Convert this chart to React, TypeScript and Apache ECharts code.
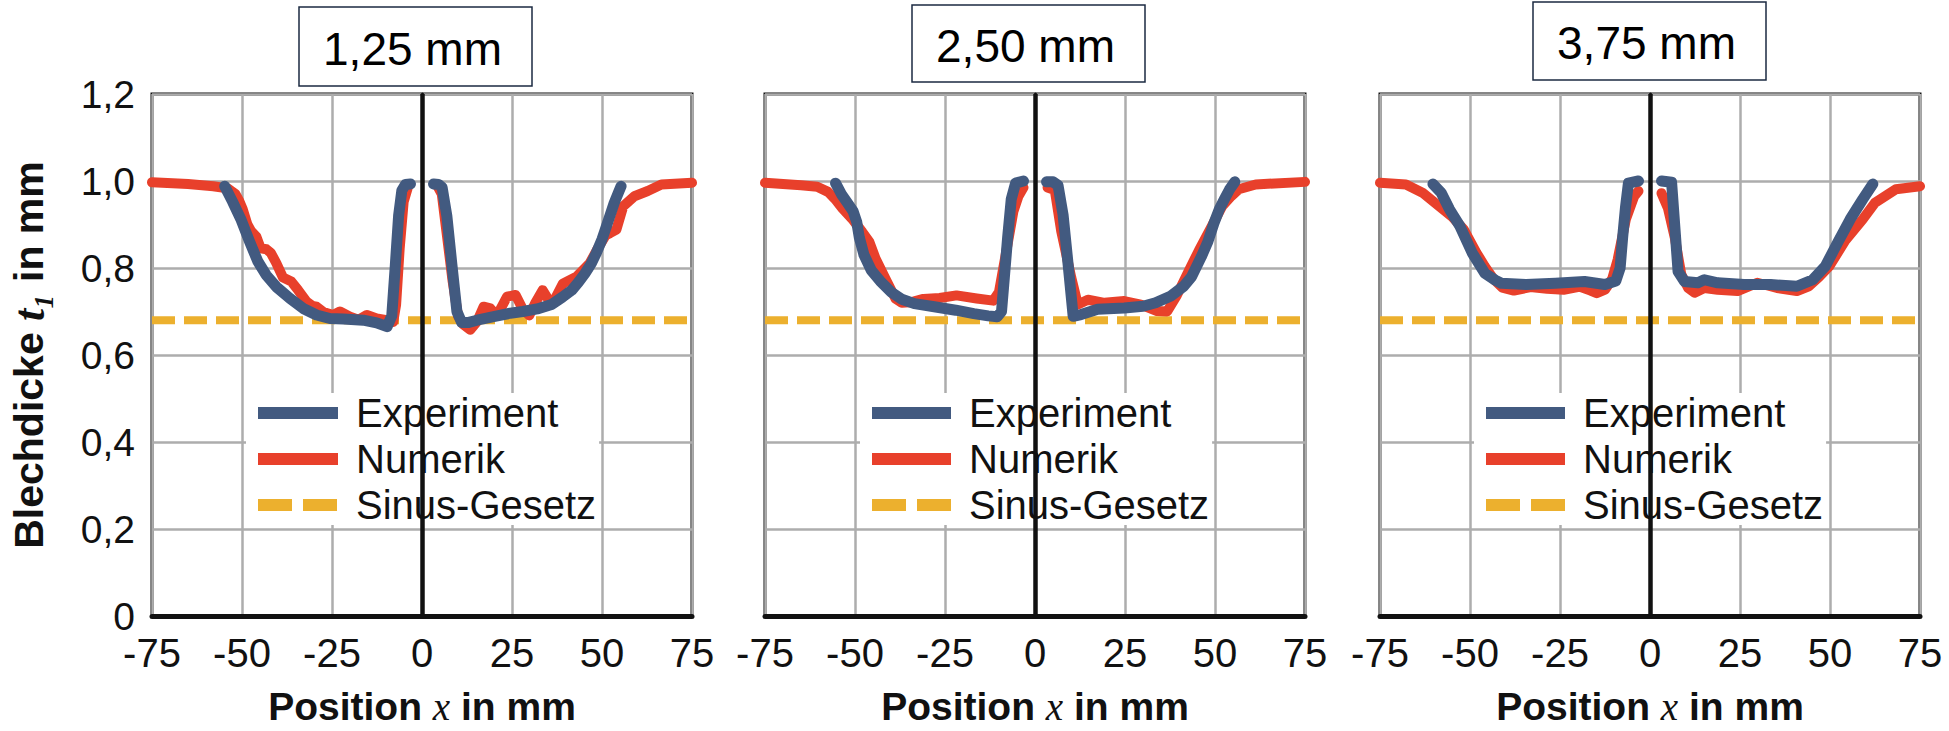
import React, { useEffect, useRef } from 'react';
import * as echarts from 'echarts';

// ---------- data ----------
const titles = ['1,25 mm', '2,50 mm', '3,75 mm'];
const legendNames = ['Experiment', 'Numerik', 'Sinus-Gesetz'];
const sinusValue = 0.68;
const xRange = [-75, 75];
const yRange = [0, 1.2];

// 1,25 mm
const exp125Left = [
  [-54.8, 0.988], [-52.6, 0.952], [-50.2, 0.91], [-47.9, 0.861], [-45.6, 0.815], [-43.3, 0.784],
  [-40.5, 0.757], [-36.7, 0.73], [-33, 0.707], [-29.3, 0.692], [-25.6, 0.684], [-21.9, 0.683],
  [-16.3, 0.68], [-12.6, 0.674], [-9.7, 0.665], [-8.4, 0.69], [-7.4, 0.808], [-6.5, 0.92],
  [-5.6, 0.978], [-4.6, 0.992], [-3.2, 0.993],
];
const exp125Right = [
  [3.2, 0.993], [4.6, 0.992], [5.6, 0.985], [6.9, 0.92], [8.3, 0.808], [9.7, 0.7], [11, 0.675],
  [13, 0.675], [15.3, 0.68], [19.9, 0.688], [24.5, 0.696], [28, 0.7], [32, 0.706], [36, 0.716],
  [39, 0.733], [41.6, 0.749], [43.5, 0.768], [45.3, 0.788], [47, 0.81], [48.4, 0.834], [50, 0.866],
  [50.9, 0.888], [52.2, 0.92], [53.4, 0.95], [54.5, 0.972], [55.3, 0.988],
];
const num125Left = [
  [-75, 0.997], [-65, 0.993], [-58, 0.988], [-54, 0.983], [-51.8, 0.97], [-50.8, 0.955],
  [-49.8, 0.935], [-48.5, 0.9], [-47.5, 0.885], [-46, 0.872], [-44.8, 0.845], [-43.2, 0.843],
  [-42, 0.835], [-40.5, 0.812], [-38.6, 0.778], [-36.3, 0.769], [-34.4, 0.749], [-32.1, 0.723],
  [-30.5, 0.713], [-29.3, 0.711], [-27.4, 0.699], [-24.7, 0.692], [-22.8, 0.7], [-20, 0.688],
  [-17.7, 0.681], [-15.3, 0.692], [-12.6, 0.684], [-9.8, 0.68], [-8, 0.676], [-7.2, 0.715],
  [-6.2, 0.845], [-5.1, 0.952], [-4, 0.983],
];
const num125Right = [
  [4.2, 0.99], [5.5, 0.97], [7, 0.87], [8.5, 0.77], [10, 0.69], [11.5, 0.67], [13.4, 0.658],
  [15.3, 0.677], [17.1, 0.711], [19, 0.707], [20.8, 0.69], [23.6, 0.734], [26, 0.738], [28, 0.705],
  [29.8, 0.691], [31.5, 0.72], [33.5, 0.749], [35.5, 0.722], [37, 0.73], [39.1, 0.764], [42.9, 0.78],
  [46.6, 0.811], [48.5, 0.84], [49.7, 0.857], [51, 0.875], [52.2, 0.88], [54, 0.888], [55.9, 0.942],
  [59, 0.965], [62.7, 0.977], [66.5, 0.992], [75, 0.996],
];

// 2,50 mm
const exp250Left = [
  [-55.4, 0.995], [-53.8, 0.97], [-52.3, 0.952], [-50.5, 0.93], [-49.5, 0.905], [-48.8, 0.87],
  [-47.5, 0.83], [-45.5, 0.795], [-43, 0.77], [-40, 0.745], [-37, 0.728], [-33.5, 0.718],
  [-28, 0.711], [-22, 0.703], [-17, 0.695], [-13, 0.69], [-10.5, 0.688], [-9.3, 0.7], [-8.5, 0.78],
  [-7.6, 0.87], [-6.6, 0.958], [-5.4, 0.995], [-3.2, 1.0],
];
const exp250Right = [
  [3.2, 0.998], [5, 0.998], [6.4, 0.99], [7.8, 0.922], [9.2, 0.808], [10.6, 0.689], [12.8, 0.693],
  [17.4, 0.705], [24.8, 0.708], [30, 0.712], [33.5, 0.72], [37.6, 0.735], [41.3, 0.758],
  [43.5, 0.78], [46.2, 0.826], [48, 0.86], [49.7, 0.903], [51.2, 0.935], [52.6, 0.958], [54, 0.98],
  [55.5, 0.998],
];
const num250Left = [
  [-75, 0.996], [-65, 0.99], [-60.5, 0.987], [-57.5, 0.975], [-55.5, 0.958], [-53.5, 0.937],
  [-50.5, 0.91], [-48, 0.883], [-46, 0.86], [-44.3, 0.822], [-41.5, 0.775], [-38.7, 0.729],
  [-37, 0.72], [-34, 0.722], [-31, 0.729], [-26.5, 0.731], [-21.8, 0.737], [-16.2, 0.73],
  [-11.6, 0.725], [-10, 0.745], [-8.8, 0.8], [-7.5, 0.86], [-6, 0.93], [-4.6, 0.965], [-3.2, 0.985],
];
const num250Right = [
  [3.5, 0.985], [5.5, 0.979], [7.3, 0.884], [10.1, 0.777], [11.9, 0.716], [14.7, 0.727],
  [19.3, 0.72], [24.8, 0.724], [29.4, 0.716], [33.9, 0.701], [36.7, 0.7], [39.4, 0.737],
  [42.5, 0.79], [45.5, 0.84], [48.6, 0.888], [52, 0.942], [54.5, 0.965], [56.6, 0.981],
  [61.3, 0.992], [75, 0.998],
];

// 3,75 mm
const exp375Left = [
  [-60.3, 0.993], [-58, 0.973], [-55.7, 0.935], [-52.8, 0.896], [-49.4, 0.835], [-45.9, 0.788],
  [-43, 0.772], [-41.3, 0.765], [-34.4, 0.762], [-26.3, 0.765], [-18.2, 0.769], [-12.5, 0.762],
  [-9.5, 0.77], [-8.3, 0.8], [-7.6, 0.87], [-6.8, 0.94], [-6, 0.995], [-3.2, 1.0],
];
const exp375Right = [
  [3.2, 1.0], [6, 0.997], [7.8, 0.792], [9.6, 0.769], [13.3, 0.766], [15.1, 0.773], [18.8, 0.766],
  [26.1, 0.762], [33.5, 0.762], [40.8, 0.758], [45.2, 0.773], [48.7, 0.804], [52.1, 0.858],
  [55.6, 0.912], [59.1, 0.958], [61.9, 0.993],
];
const num375Left = [
  [-75, 0.996], [-67.8, 0.992], [-63.2, 0.973], [-58.6, 0.942], [-55.1, 0.919], [-51.7, 0.888],
  [-48.2, 0.835], [-45.9, 0.804], [-43.5, 0.775], [-41, 0.755], [-37.8, 0.748], [-33.2, 0.756],
  [-28.6, 0.752], [-24, 0.75], [-19.4, 0.757], [-16.5, 0.748], [-14.8, 0.742], [-12.5, 0.75],
  [-10.5, 0.775], [-9, 0.819], [-6.7, 0.912], [-4.4, 0.965], [-3.2, 0.977],
];
const num375Right = [
  [3.2, 0.972], [5, 0.937], [6.9, 0.869], [8.7, 0.785], [10.6, 0.754], [12.4, 0.743], [15.1, 0.754],
  [18.8, 0.75], [24.3, 0.747], [29.8, 0.766], [35.3, 0.754], [40.8, 0.747], [44.1, 0.758],
  [47, 0.78], [49.8, 0.804], [54.4, 0.865], [59.1, 0.912], [62.5, 0.95], [68.3, 0.981], [75, 0.988],
];

// ---------- styles / layout ----------
const SANS = "'Liberation Sans', Arial, Helvetica, sans-serif";
const SERIF = "'Liberation Serif', 'Times New Roman', serif";
const BLUE = '#425a80';
const RED = '#e8402b';
const YELLOW = '#ecb02e';
const INK = '#111111';

const layout = [
  { left: 152, width: 540, box: [299, 7, 233, 79], legendLeft: 246, iconW: 80 },
  { left: 765, width: 540, box: [912, 5, 233, 77], legendLeft: 860, iconW: 79 },
  { left: 1380, width: 540, box: [1533, 2, 233, 78], legendLeft: 1474, iconW: 79 },
];
const expSets = [[exp125Left, exp125Right], [exp250Left, exp250Right], [exp375Left, exp375Right]];
const numSets = [[num125Left, num125Right], [num250Left, num250Right], [num375Left, num375Right]];

const withGap = (parts: number[][][]) => [...parts[0], [0, '-'], ...parts[1]];

export default function App() {
  const ref = useRef<HTMLDivElement>(null);
  useEffect(() => {
    if (!ref.current) return;
    const chart = echarts.init(ref.current, undefined, { renderer: 'svg' });
    const top = 94;
    const height = 522;

    const grid = layout.map((p) => ({
      left: p.left, top, width: p.width, height,
      outerBoundsMode: 'none', containLabel: false,
      show: true, borderColor: INK, borderWidth: 3, backgroundColor: 'transparent',
    }));

    const xAxis = layout.map((p, i) => ({
      type: 'value', gridIndex: i, min: xRange[0], max: xRange[1], interval: 25,
      axisLine: { show: true, onZero: false, lineStyle: { color: INK, width: 5 } },
      axisTick: { show: false },
      axisLabel: { fontSize: 40, fontFamily: SANS, color: INK, margin: 17 },
      splitLine: { show: true, lineStyle: { color: '#adadad', width: 2.5 } },
      name: '{b|Position }{i|x}{b| in mm}',
      nameLocation: 'middle',
      nameGap: 71,
      nameTextStyle: {
        fontSize: 39,
        lineHeight: 39,
        rich: {
          b: { fontFamily: SANS, fontWeight: 'bold', fontSize: 39, lineHeight: 39, color: INK },
          i: { fontFamily: SERIF, fontStyle: 'italic', fontSize: 39, lineHeight: 39, color: INK },
        },
      },
    }));

    const yAxis = layout.map((p, i) => ({
      type: 'value', gridIndex: i, min: yRange[0], max: yRange[1], interval: 0.2,
      axisLine: { show: true, lineStyle: { color: INK, width: 3 } },
      axisTick: { show: false },
      axisLabel: {
        show: i === 0, fontSize: 39, fontFamily: SANS, color: INK, margin: 17,
        formatter: (v: number) => (Math.abs(v) < 1e-9 ? '0' : v.toFixed(1).replace('.', ',')),
      },
      splitLine: { show: true, lineStyle: { color: '#adadad', width: 2.5 } },
      name: i === 0 ? '{b|Blechdicke }{i|t₁}{b| in mm}' : '',
      nameLocation: 'middle',
      nameRotate: 90,
      nameGap: 101,
      nameTextStyle: {
        lineHeight: 44,
        rich: {
          b: { fontFamily: SANS, fontWeight: 'bold', fontSize: 41, color: INK, lineHeight: 44 },
          i: { fontFamily: SERIF, fontStyle: 'italic', fontWeight: 'bold', fontSize: 44, color: INK, lineHeight: 44 },
        },
      },
    }));

    const series: any[] = [];
    layout.forEach((p, i) => {
      series.push({
        type: 'line', name: legendNames[2], xAxisIndex: i, yAxisIndex: i,
        data: [[xRange[0], sinusValue], [xRange[1], sinusValue]],
        symbol: 'none', silent: true,
        lineStyle: { color: YELLOW, width: 8, type: [23, 9], cap: 'butt' },
        itemStyle: { color: YELLOW },
        markLine: {
          silent: true, symbol: 'none', label: { show: false },
          lineStyle: { color: INK, width: 4.5, type: 'solid' },
          emphasis: { disabled: true },
          data: [{ xAxis: 0 }],
        },
        z: 2,
      });
      series.push({
        type: 'line', name: legendNames[1], xAxisIndex: i, yAxisIndex: i,
        data: withGap(numSets[i]), symbol: 'none', silent: true,
        lineStyle: { color: RED, width: 10, cap: 'round', join: 'round' },
        itemStyle: { color: RED },
        z: 3,
      });
      series.push({
        type: 'line', name: legendNames[0], xAxisIndex: i, yAxisIndex: i,
        data: withGap(expSets[i]), symbol: 'none', silent: true,
        lineStyle: { color: BLUE, width: 11, cap: 'round', join: 'round' },
        itemStyle: { color: BLUE },
        z: 4,
      });
    });

    const hiddenSymbol = { color: 'rgba(0,0,0,0)', borderWidth: 0, opacity: 0 };
    const legend = layout.map((p) => ({
      orient: 'vertical', left: p.legendLeft, top: 393,
      data: [
        { name: legendNames[0], itemStyle: hiddenSymbol },
        { name: legendNames[1], itemStyle: hiddenSymbol },
        { name: legendNames[2], itemStyle: hiddenSymbol, lineStyle: { type: [34, 11] } },
      ],
      itemWidth: p.iconW, itemHeight: 14, itemGap: 6,
      padding: [0, 3, 0, 6],
      backgroundColor: '#ffffff',
      selectedMode: false,
      lineStyle: { width: 12, cap: 'butt' },
      textStyle: { fontFamily: SANS, fontSize: 40, color: INK, lineHeight: 40, padding: [0, 0, 0, 13] },
    }));

    const graphic = layout.map((p, i) => {
      const [bx, by, bw, bh] = p.box;
      return {
        type: 'group',
        children: [
          { type: 'rect', shape: { x: bx, y: by, width: bw, height: bh }, style: { fill: '#fff', stroke: '#1b2a41', lineWidth: 1.5 } },
          {
            type: 'text', x: bx + bw / 2 - 3, y: by + bh / 2 + 2,
            style: { text: titles[i], fontSize: 46, fontFamily: SANS, fill: '#000', align: 'center', verticalAlign: 'middle' },
          },
        ],
      };
    });

    chart.setOption({
      animation: false,
      backgroundColor: '#ffffff',
      grid, xAxis, yAxis, series, legend, graphic,
    });
    return () => chart.dispose();
  }, []);

  return (
    <div
      ref={ref}
      style={{ position: 'fixed', left: 0, top: 0, width: 1949, height: 731, background: '#fff' }}
    />
  );
}
